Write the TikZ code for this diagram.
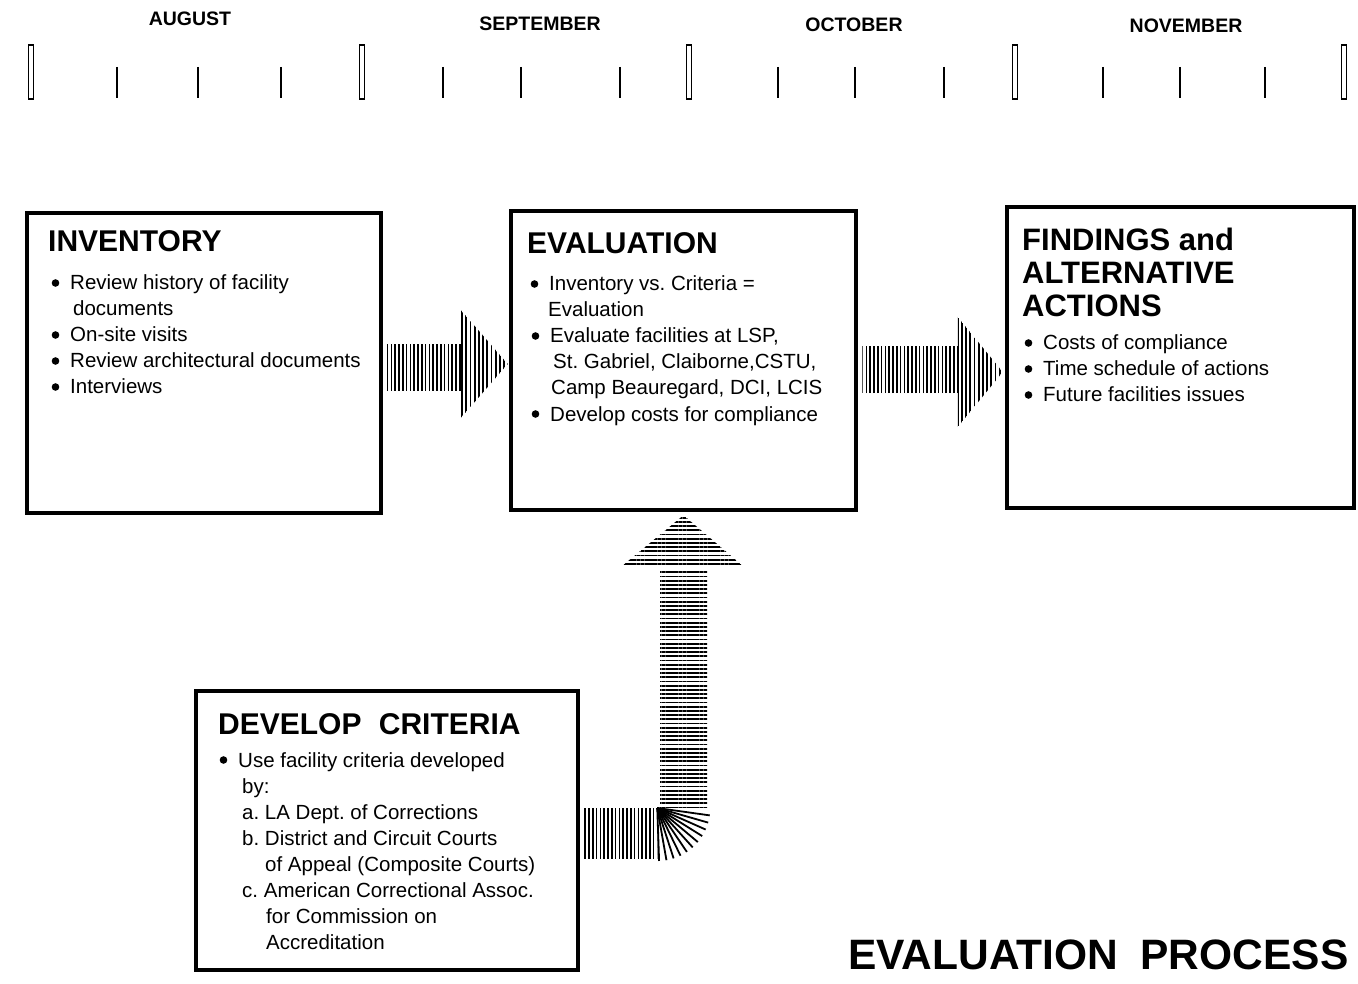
\documentclass[tikz,border=0pt]{standalone}
\usepackage{fontspec}
\setmainfont{Liberation Sans}
\frenchspacing
\usetikzlibrary{calc,patterns.meta}
\tikzset{
  box/.style={draw, line width=4.5pt, inner sep=0pt, rectangle},
  ttl/.style={font=\bfseries\fontsize{30}{33}\selectfont, anchor=base west, inner sep=0pt},
  body/.style={font=\frenchspacing\fontsize{20.5}{26}\selectfont, anchor=base west, inner sep=0pt},
  month/.style={font=\bfseries\fontsize{19.5}{22}\selectfont, inner sep=0pt},
  bigrect/.style={draw, line width=1.5pt},
  tick/.style={line width=1.6pt},
  hatchV/.style={pattern={Lines[angle=90,distance=3.8pt,line width=1.7pt]}},
  hatchVh/.style={pattern={Lines[angle=90,distance=4.2pt,line width=1.8pt]}},
  hatchH/.style={pattern={Lines[angle=0,distance=4.2pt,line width=1.8pt]}},
  fanline/.style={line width=1.8pt},
}
\newcommand{\dotat}[1]{\fill ($(#1.base west)+(-14.5,-7)$) circle (3.8pt);}
\begin{document}
\begin{tikzpicture}[x=1pt,y=-1pt]
\useasboundingbox[fill=white] (0,0) rectangle (1358,984);

% ---- timeline ----
\node[month] (aug) at (190,19) {AUGUST};
\node[month] (sep) at (540,24) {SEPTEMBER};
\node[month] (oct) at (854,25) {OCTOBER};
\node[month] (nov) at (1186,26) {NOVEMBER};
\foreach \xx in {31,362,689,1015,1344}
  \draw[bigrect] (\xx-2.5,45) rectangle (\xx+2.5,99);
\foreach \xx in {117,198,281,443,521,620,778,855,944,1103,1180,1265}
  \draw[tick] (\xx,67) -- (\xx,98);

% ---- boxes ----
\node[box, minimum width=354pt, minimum height=300pt] (inv) at (204,363) {};
\node[box, minimum width=345pt, minimum height=299pt] (eval) at (683.5,360.5) {};
\node[box, minimum width=347pt, minimum height=301pt] (find) at (1180.5,357.5) {};
\node[box, minimum width=382pt, minimum height=279pt] (crit) at (387,830.5) {};

% ---- inventory text ----
\node[ttl] (invT) at (48,252) {INVENTORY};
\node[body] (inv1) at (70,290) {Review history of facility};
\node[body] (inv2) at (73,316) {documents};
\node[body] (inv3) at (70,342) {On-site visits};
\node[body] (inv4) at (70,368) {Review architectural documents};
\node[body] (inv5) at (70,394) {Interviews};
\dotat{inv1}\dotat{inv3}\dotat{inv4}\dotat{inv5}

% ---- evaluation text ----
\node[ttl] (evT) at (527,254) {EVALUATION};
\node[body] (ev1) at (549,291) {Inventory vs. Criteria =};
\node[body] (ev2) at (548,317) {Evaluation};
\node[body] (ev3) at (550,343) {Evaluate facilities at LSP,};
\node[body] (ev4) at (553,369) {St. Gabriel, Claiborne,CSTU,};
\node[body] (ev5) at (551,395) {Camp Beauregard, DCI, LCIS};
\node[body] (ev6) at (550,421) {Develop costs for compliance};
\dotat{ev1}\dotat{ev3}\dotat{ev6}

% ---- findings text ----
\node[ttl, font=\bfseries\fontsize{31}{33}\selectfont] (fT1) at (1022,251) {FINDINGS and};
\node[ttl, font=\bfseries\fontsize{31}{33}\selectfont] (fT2) at (1022,284) {ALTERNATIVE};
\node[ttl, font=\bfseries\fontsize{31}{33}\selectfont] (fT3) at (1022,317) {ACTIONS};
\node[body] (f1) at (1043,350) {Costs of compliance};
\node[body] (f2) at (1043,376) {Time schedule of actions};
\node[body] (f3) at (1043,402) {Future facilities issues};
\dotat{f1}\dotat{f2}\dotat{f3}

% ---- criteria text ----
\node[ttl] (cT) at (218,734) {DEVELOP\hspace{0.3em} CRITERIA};
\node[body] (c1) at (238,767) {Use facility criteria developed};
\node[body] (c2) at (242,793) {by:};
\node[body] (c3) at (242,819) {a. LA Dept. of Corrections};
\node[body] (c4) at (242,845) {b. District and Circuit Courts};
\node[body] (c5) at (265,871) {of Appeal (Composite Courts)};
\node[body] (c6) at (242,897) {c. American Correctional Assoc.};
\node[body] (c7) at (266,923) {for Commission on};
\node[body] (c8) at (266,949) {Accreditation};
\dotat{c1}

% ---- caption ----
\node[anchor=base west, inner sep=0pt, font=\bfseries\fontsize{42.5}{46}\selectfont] (cap) at (848,969) {EVALUATION\hspace{0.25em} PROCESS};

% ---- arrow inventory -> evaluation ----
\fill[hatchV] ($(inv.east)+(3,-18)$) rectangle ($(eval.west)+(-48,29.5)$);
\fill[hatchVh] ($(eval.west)+(-48,-50.5)$) -- ($(eval.west)+(-1,3.5)$) -- ($(eval.west)+(-48,57.5)$) -- cycle;

% ---- arrow evaluation -> findings ----
\fill[hatchV] ($(eval.east)+(4,-13.5)$) rectangle ($(find.west)+(-47,35.5)$);
\fill[hatchVh] ($(find.west)+(-47,-40.5)$) -- ($(find.west)+(-2,14.5)$) -- ($(find.west)+(-47,69.5)$) -- cycle;

% ---- arrow criteria -> evaluation (elbow) ----
\coordinate (fan) at ($(crit.east)+(77,-22.5)$);
\fill[hatchV] ($(crit.east)+(2,-22.5)$) rectangle ($(fan)+(0,50)$);
\foreach \a in {8,16,...,88}
  \draw[fanline] (fan) -- ++({53*cos(\a)},{53*sin(\a)});
\fill[hatchH] ($(eval.south)+(-23.5,57)$) rectangle ($(eval.south |- fan)+(23.5,-1)$);
\fill[hatchH] ($(eval.south)+(-60.5,53)$) -- ($(eval.south)+(0,3)$) -- ($(eval.south)+(58.5,53)$) -- cycle;
\end{tikzpicture}
\end{document}
